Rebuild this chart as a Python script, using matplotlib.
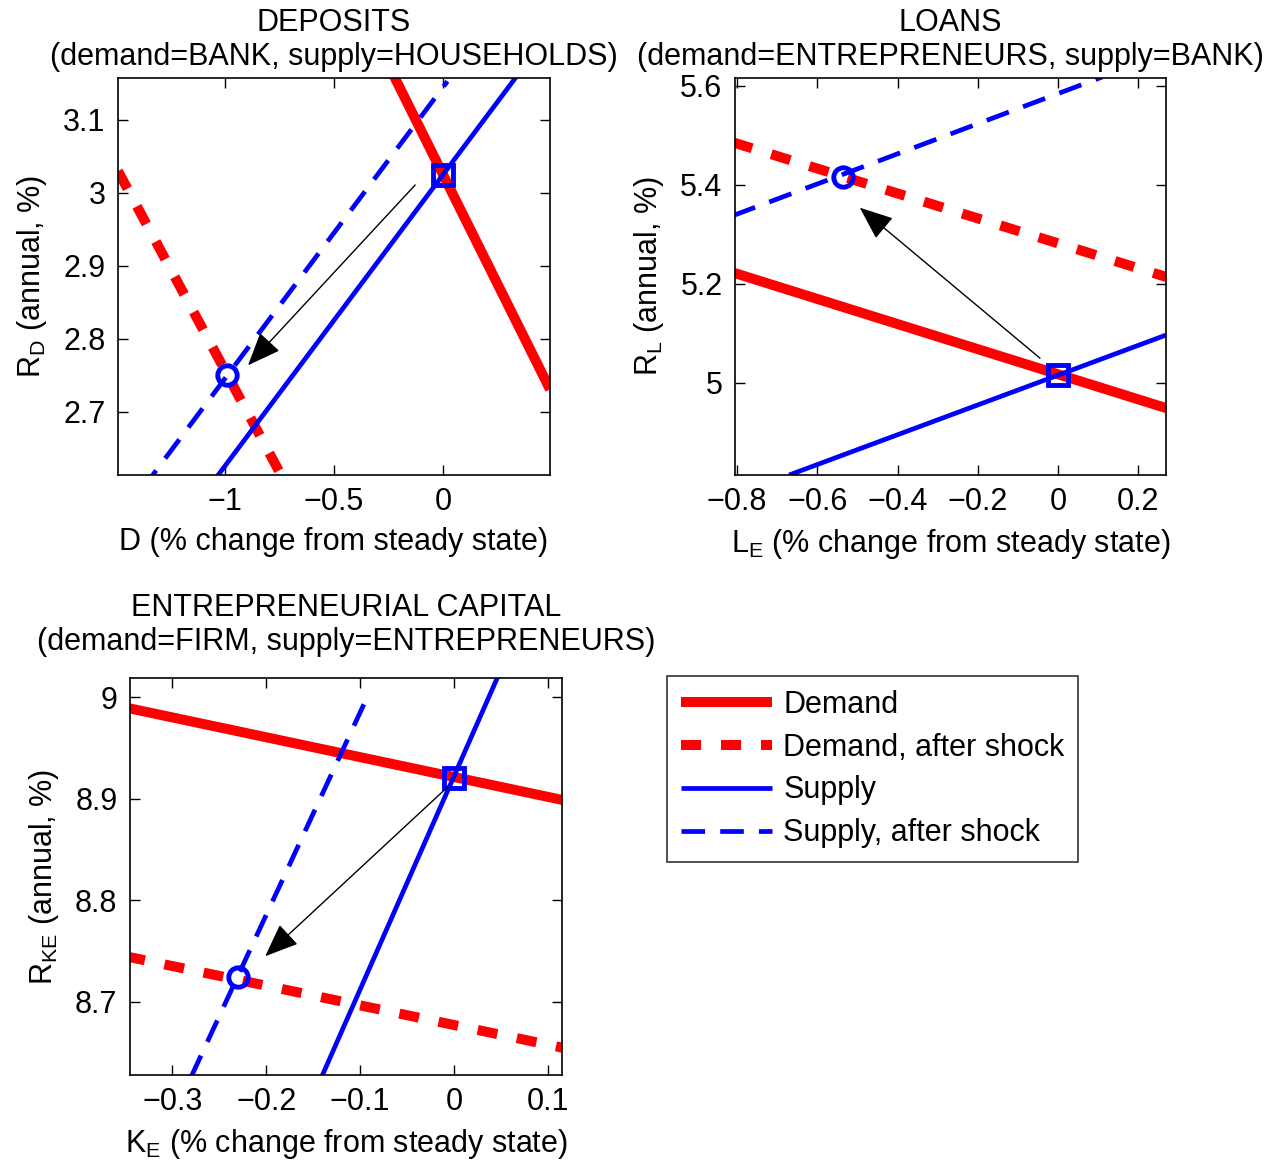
import matplotlib
matplotlib.use("Agg")
import matplotlib.pyplot as plt
from matplotlib.ticker import FuncFormatter
from matplotlib.lines import Line2D

plt.rcParams['font.family'] = ['Liberation Sans', 'DejaVu Sans']
plt.rcParams['mathtext.default'] = 'regular'
plt.rcParams['axes.unicode_minus'] = True

# ---------------- data ----------------
# Deposits
dep_dem_x = [-0.25, 0.49];   dep_dem_y = [3.175, 2.731]
dep_dem2_x = [-1.49, -0.70]; dep_dem2_y = [3.03, 2.59]
dep_sup_x = [-1.05, 0.35];   dep_sup_y = [2.606, 3.165]
dep_sup2_x = [-1.38, 0.02];  dep_sup2_y = [2.594, 3.153]
dep_eq0 = (0.0, 3.025)
dep_eq1 = (-0.99, 2.75)
dep_arrow = ((-0.128, 3.011), (-0.894, 2.764))
dep_xlim = (-1.49, 0.49); dep_ylim = (2.6137, 3.1575)
dep_xticks = [-1, -0.5, 0]; dep_yticks = [2.7, 2.8, 2.9, 3.0, 3.1]

# Loans
loan_dem_x = [-0.81, 0.27];  loan_dem_y = [5.223, 4.949]
loan_dem2_x = [-0.81, 0.27]; loan_dem2_y = [5.486, 5.214]
loan_sup_x = [-0.67, 0.27];  loan_sup_y = [4.814, 5.097]
loan_sup2_x = [-0.81, 0.11]; loan_sup2_y = [5.338, 5.618]
loan_eq0 = (0.0, 5.016)
loan_eq1 = (-0.536, 5.416)
loan_arrow = ((-0.045, 5.05), (-0.494, 5.354))
loan_xlim = (-0.805, 0.269); loan_ylim = (4.814, 5.616)
loan_xticks = [-0.8, -0.6, -0.4, -0.2, 0, 0.2]; loan_yticks = [5.0, 5.2, 5.4, 5.6]

# Entrepreneurial capital
cap_dem_x = [-0.35, 0.12];   cap_dem_y = [8.990, 8.898]
cap_dem2_x = [-0.35, 0.12];  cap_dem2_y = [8.745, 8.654]
cap_sup_x = [-0.141, 0.047]; cap_sup_y = [8.626, 9.021]
cap_sup2_x = [-0.280, -0.0925]; cap_sup2_y = [8.626, 9.0]
cap_eq0 = (0.0, 8.921)
cap_eq1 = (-0.23, 8.725)
cap_arrow = ((-0.0064, 8.912), (-0.201, 8.745))
cap_xlim = (-0.345, 0.115); cap_ylim = (8.628, 9.019)
cap_xticks = [-0.3, -0.2, -0.1, 0, 0.1]; cap_yticks = [8.7, 8.8, 8.9, 9.0]

legend_labels = ["Demand", "Demand, after shock", "Supply", "Supply, after shock"]

# ---------------- styles ----------------
RED = '#ff0000'
BLUE = '#0000ff'
FS = 22
dem_kw = dict(color=RED, lw=7.2, solid_capstyle='butt')
dem2_kw = dict(color=RED, lw=7.2, linestyle=(0, (2.0, 2.0)), dash_capstyle='butt')
sup_kw = dict(color=BLUE, lw=3.4, solid_capstyle='butt')
sup2_kw = dict(color=BLUE, lw=3.4, linestyle=(0, (5.0, 3.2)), dash_capstyle='butt')

fig = plt.figure(figsize=(12.79, 11.63), dpi=100)

fmt = FuncFormatter(lambda v, p: ('%g' % v).replace('-', '\u2212'))


def panel(rect, dx, dy, d2x, d2y, sx, sy, s2x, s2y, eq0, eq1, arr,
          xlim, ylim, xticks, yticks, title, xlabel, ylabel, tpad):
    ax = fig.add_axes(rect)
    ax.plot(dx, dy, **dem_kw)
    ax.plot(d2x, d2y, **dem2_kw)
    ax.plot(sx, sy, **sup_kw)
    ax.plot(s2x, s2y, **sup2_kw)
    ax.plot([eq0[0]], [eq0[1]], marker='s', ms=14, mfc='none', mec=BLUE, mew=3.5)
    ax.plot([eq1[0]], [eq1[1]], marker='o', ms=14, mfc='none', mec=BLUE, mew=3.5)
    ax.annotate('', xy=arr[1], xytext=arr[0],
                arrowprops=dict(arrowstyle='-|>,head_length=2.1,head_width=0.85',
                                color='black', lw=1.0, shrinkA=0, shrinkB=0))
    ax.set_xlim(*xlim)
    ax.set_ylim(*ylim)
    ax.set_xticks(xticks)
    ax.set_yticks(yticks)
    ax.xaxis.set_major_formatter(fmt)
    ax.yaxis.set_major_formatter(fmt)
    ax.tick_params(direction='in', top=True, right=True, length=7, width=1,
                   labelsize=FS, pad=9)
    for s in ax.spines.values():
        s.set_linewidth(1.2)
    ax.set_title(title, fontsize=FS, pad=tpad, linespacing=1.2)
    ax.set_xlabel(xlabel, fontsize=FS, labelpad=7)
    ax.set_ylabel(ylabel, fontsize=FS, labelpad=10)
    return ax


H = 1163.0
W = 1279.0
panel([118 / W, 1 - 475 / H, 432 / W, 397 / H],
      dep_dem_x, dep_dem_y, dep_dem2_x, dep_dem2_y, dep_sup_x, dep_sup_y,
      dep_sup2_x, dep_sup2_y, dep_eq0, dep_eq1, dep_arrow,
      dep_xlim, dep_ylim, dep_xticks, dep_yticks,
      "DEPOSITS\n(demand=BANK, supply=HOUSEHOLDS)",
      "D (% change from steady state)", "$R_D$ (annual, %)", 9)

panel([735 / W, 1 - 475 / H, 431 / W, 397 / H],
      loan_dem_x, loan_dem_y, loan_dem2_x, loan_dem2_y, loan_sup_x, loan_sup_y,
      loan_sup2_x, loan_sup2_y, loan_eq0, loan_eq1, loan_arrow,
      loan_xlim, loan_ylim, loan_xticks, loan_yticks,
      "LOANS\n(demand=ENTREPRENEURS, supply=BANK)",
      "$L_E$ (% change from steady state)", "$R_L$ (annual, %)", 9)

panel([130 / W, 1 - 1075 / H, 432 / W, 397 / H],
      cap_dem_x, cap_dem_y, cap_dem2_x, cap_dem2_y, cap_sup_x, cap_sup_y,
      cap_sup2_x, cap_sup2_y, cap_eq0, cap_eq1, cap_arrow,
      cap_xlim, cap_ylim, cap_xticks, cap_yticks,
      "ENTREPRENEURIAL CAPITAL\n(demand=FIRM, supply=ENTREPRENEURS)",
      "$K_E$ (% change from steady state)", "$R_{KE}$ (annual, %)", 20)

handles = [Line2D([], [], **dem_kw), Line2D([], [], **dem2_kw),
           Line2D([], [], **sup_kw), Line2D([], [], **sup2_kw)]
leg = fig.legend(handles, legend_labels, loc='upper left',
                 bbox_to_anchor=(667 / W, 1 - 676 / H), fontsize=FS,
                 frameon=True, fancybox=False, edgecolor='black',
                 handlelength=3.0, handletextpad=0.35, labelspacing=0.42,
                 borderpad=0.45, borderaxespad=0)
leg.get_frame().set_linewidth(1.2)

fig.savefig("out.png", dpi=100)
